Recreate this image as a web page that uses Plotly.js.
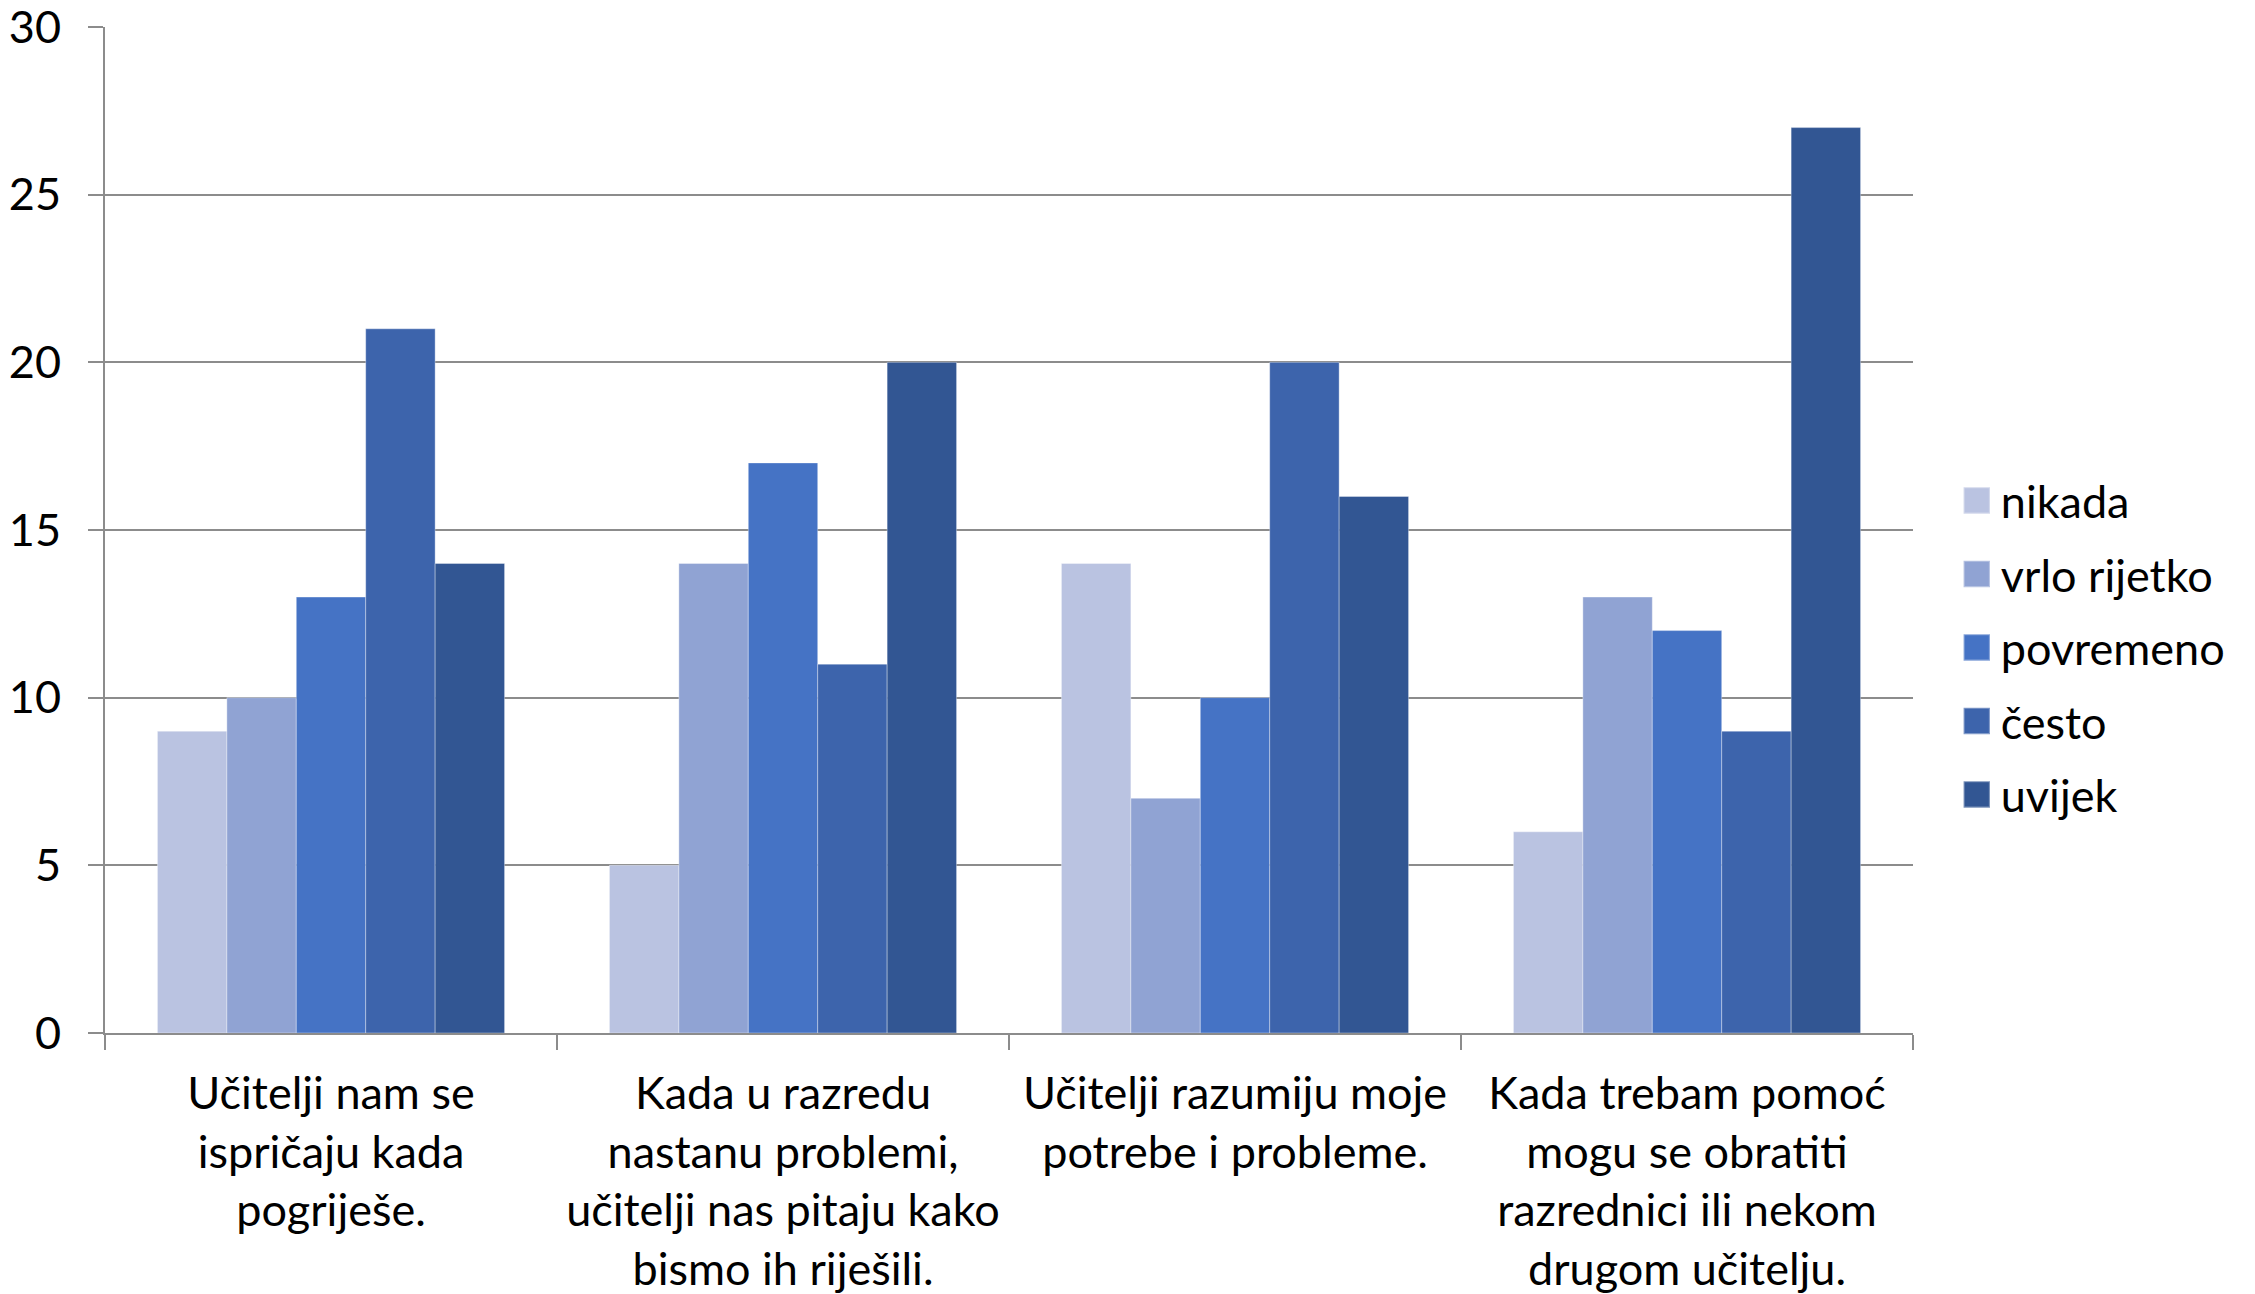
<!DOCTYPE html>
<html>
<head>
<meta charset="utf-8">
<script src="https://cdn.plot.ly/plotly-3.0.1.min.js"></script>
<style>html,body{margin:0;padding:0;background:#fff;}#chart{width:2255px;height:1294px;}</style>
</head>
<body>
<div id="chart"></div>
<script>
const categories = [
  "Učitelji nam se<br>ispričaju kada<br>pogriješe.",
  "Kada u razredu<br>nastanu problemi,<br>učitelji nas pitaju kako<br>bismo ih riješili.",
  "Učitelji razumiju moje<br>potrebe i probleme.",
  "Kada trebam pomoć<br>mogu se obratiti<br>razrednici ili nekom<br>drugom učitelju."
];
const seriesNames = ["nikada", "vrlo rijetko", "povremeno", "često", "uvijek"];
const nikada = [9, 5, 14, 6];
const vrloRijetko = [10, 14, 7, 13];
const povremeno = [13, 17, 10, 12];
const cesto = [21, 11, 20, 9];
const uvijek = [14, 20, 16, 27];
const yTicks = [0, 5, 10, 15, 20, 25, 30];

const seriesValues = [nikada, vrloRijetko, povremeno, cesto, uvijek];
const colors = ["#BAC3E1", "#90A3D3", "#4573C5", "#3D64AC", "#325693"];
const FONT = "Lato, 'Noto Sans', sans-serif";

const traces = seriesNames.map((name, i) => ({
  type: "bar",
  name: name,
  x: categories,
  y: seriesValues[i],
  legendgroup: "g" + i,
  marker: { color: colors[i], line: { color: "rgba(255,255,255,0.35)", width: 1 } },
  hoverinfo: "y+name"
}));

const layout = {
  width: 2255,
  height: 1294,
  paper_bgcolor: "#fff",
  plot_bgcolor: "#fff",
  margin: { l: 105, r: 342, t: 27, b: 261, pad: 0 },
  barmode: "group",
  bargap: 0.232,
  bargroupgap: 0,
  font: { family: FONT, size: 45, color: "#000" },
  showlegend: true,
  legend: {
    x: 1.022, xanchor: "left",
    y: 0.383, yanchor: "middle",
    font: { family: FONT, size: 45, color: "#000" },
    tracegroupgap: 12,
    traceorder: "grouped",
    itemwidth: 38,
    bgcolor: "rgba(0,0,0,0)"
  },
  xaxis: {
    type: "category",
    showline: true, linecolor: "#8c8c8c", linewidth: 2,
    ticks: "outside", ticklen: 15, tickcolor: "#8c8c8c", tickwidth: 2,
    tickson: "boundaries",
    showgrid: false,
    tickangle: 0,
    tickfont: { family: FONT, size: 45, color: "#000" },
    ticklabelstandoff: 20,
    automargin: false
  },
  yaxis: {
    range: [0, 30],
    tickvals: yTicks,
    ticktext: yTicks.map(String),
    showline: true, linecolor: "#8c8c8c", linewidth: 2,
    ticks: "outside", ticklen: 15, tickcolor: "#8c8c8c", tickwidth: 2,
    showgrid: true, gridcolor: "#8c8c8c", gridwidth: 2,
    zeroline: false,
    tickfont: { family: FONT, size: 45, color: "#000" },
    ticklabelstandoff: 18,
    ticklabeloverflow: "allow",
    automargin: false
  }
};

Plotly.newPlot("chart", traces, layout, { displayModeBar: false, staticPlot: true }).then(() => {
  document.querySelectorAll(".legend .legendpoints path").forEach(p => {
    const t = p.getAttribute("transform") || "";
    p.setAttribute("transform", t + " scale(2.2)");
  });
});
</script>
</body>
</html>
